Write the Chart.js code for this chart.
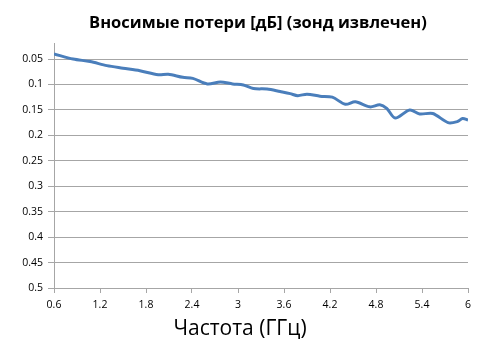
<!DOCTYPE html>
<html>
<head>
<meta charset="utf-8">
<script src="https://cdn.jsdelivr.net/npm/chart.js@4"></script>
<style>
  html, body { margin: 0; padding: 0; background: #fff; }
  #wrap { position: relative; width: 491px; height: 358px; }
  .lbl { position: absolute; font-family: "Open Sans", sans-serif; color: #000; white-space: nowrap; transform: translateX(-50%); }
  #title { left: 258px; top: 10px; font-size: 16.5px; font-weight: bold; }
  #xtitle { left: 240px; top: 313px; font-size: 21px; }
</style>
</head>
<body>
<div id="wrap">
  <canvas id="c" width="491" height="358"></canvas>
  <div class="lbl" id="title">Вносимые потери [дБ] (зонд извлечен)</div>
  <div class="lbl" id="xtitle">Частота (ГГц)</div>
</div>
<script>
// frequency, GHz
const freq = [0.6, 0.85, 1.07, 1.29, 1.50, 1.72, 1.96, 2.09, 2.28, 2.41, 2.60, 2.77, 2.93, 3.07,
  3.20, 3.38, 3.55, 3.68, 3.78, 3.90, 4.07, 4.23, 4.40, 4.53, 4.72, 4.85, 4.94, 5.05, 5.24,
  5.37, 5.54, 5.74, 5.86, 5.93, 6.0];
// insertion loss, dB
const loss = [0.040, 0.050, 0.055, 0.063, 0.068, 0.073, 0.081, 0.080, 0.086, 0.088, 0.099, 0.095,
  0.099, 0.101, 0.108, 0.109, 0.114, 0.118, 0.122, 0.119, 0.123, 0.125, 0.139, 0.134, 0.144,
  0.140, 0.147, 0.166, 0.150, 0.158, 0.157, 0.175, 0.173, 0.167, 0.170];

const xTicks = [0.6, 1.2, 1.8, 2.4, 3, 3.6, 4.2, 4.8, 5.4, 6];
const yTicks = [0.05, 0.1, 0.15, 0.2, 0.25, 0.3, 0.35, 0.4, 0.45, 0.5];

const gridGrey = '#a6a6a6';
const tickFont = { family: 'Open Sans', size: 10.5 };

new Chart(document.getElementById('c'), {
  type: 'line',
  data: {
    datasets: [{
      data: freq.map((f, i) => ({ x: f, y: loss[i] })),
      borderColor: '#4a7ebb',
      borderWidth: 3,
      pointRadius: 0,
      tension: 0.3,
      fill: false
    }]
  },
  options: {
    responsive: false,
    animation: false,
    layout: { padding: { top: 43, right: 23, bottom: 0, left: 0 } },
    plugins: { legend: { display: false }, tooltip: { enabled: false } },
    scales: {
      x: {
        type: 'linear',
        min: 0.6,
        max: 6,
        afterBuildTicks: s => { s.ticks = xTicks.map(v => ({ value: v })); },
        afterFit: s => { s.height = 70; },
        grid: { drawOnChartArea: false, drawTicks: true, tickLength: 5, color: gridGrey },
        border: { color: gridGrey },
        ticks: { font: tickFont, color: '#000', padding: 6, maxRotation: 0,
          callback: v => String(Number(v.toFixed(1))) }
      },
      y: {
        reverse: true,
        min: 0.0185,
        max: 0.5,
        afterBuildTicks: s => { s.ticks = yTicks.map(v => ({ value: v })); },
        afterFit: s => { s.width = 54; },
        grid: { color: gridGrey, tickLength: 6 },
        border: { color: gridGrey },
        ticks: { font: tickFont, color: '#000', padding: 5,
          callback: v => String(Number(v.toFixed(2))) }
      }
    }
  }
});
</script>
</body>
</html>
